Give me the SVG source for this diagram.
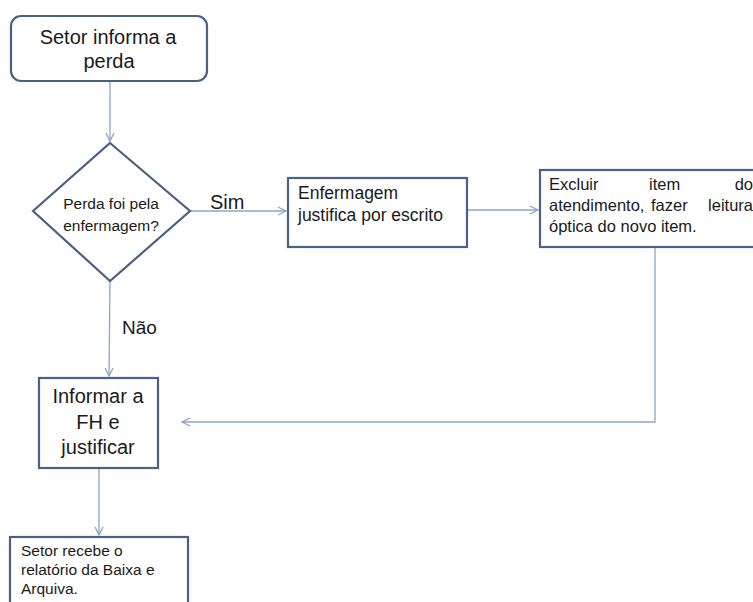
<svg xmlns="http://www.w3.org/2000/svg" width="753" height="602" viewBox="0 0 753 602">
  <defs>
    <marker id="arrow" viewBox="0 0 10 10" refX="9" refY="5" markerWidth="10" markerHeight="10" markerUnits="userSpaceOnUse" orient="auto">
      <polyline points="1,1 9,5 1,9" fill="none" stroke="#8ba6c9" stroke-width="1.3"/>
    </marker>
  </defs>
  <style>
    .box { fill: #ffffff; stroke: #4a6183; stroke-width: 2.2; }
    .link { fill: none; stroke: #8ba6c9; stroke-width: 1.3; }
    .t { font-family: "Liberation Sans", Arial, sans-serif; fill: #1a1a1a; }
  </style>
  <rect width="753" height="602" fill="#ffffff"/>

  <!-- connectors -->
  <g id="connectors">
    <line class="link" x1="110" y1="81" x2="110" y2="141" marker-end="url(#arrow)"/>
    <line class="link" x1="190" y1="211" x2="286" y2="211" marker-end="url(#arrow)"/>
    <line class="link" x1="467" y1="210" x2="538" y2="210" marker-end="url(#arrow)"/>
    <line class="link" x1="110" y1="282" x2="109" y2="376" marker-end="url(#arrow)"/>
    <polyline class="link" points="655,247 655,422 182,422" marker-end="url(#arrow)"/>
    <line class="link" x1="99" y1="468" x2="99" y2="535" marker-end="url(#arrow)"/>
    <text class="t" x="210" y="209" font-size="20">Sim</text>
    <text class="t" x="122" y="334" font-size="19">Não</text>
  </g>

  <g id="setor-informa">
    <rect class="box" x="11" y="16" width="196" height="65" rx="10"/>
    <text class="t" x="108" y="44" font-size="20" text-anchor="middle">Setor informa a</text>
    <text class="t" x="109" y="68" font-size="20" text-anchor="middle">perda</text>
  </g>

  <g id="decisao">
    <polygon class="box" points="110,143 190,211 110,281 33,211"/>
    <text class="t" x="111" y="209" font-size="15.5" text-anchor="middle">Perda foi pela</text>
    <text class="t" x="111" y="231" font-size="15.5" text-anchor="middle">enfermagem?</text>
  </g>

  <g id="enfermagem">
    <rect class="box" x="288" y="178" width="179" height="69"/>
    <text class="t" x="298" y="199" font-size="17.5">Enfermagem</text>
    <text class="t" x="298" y="221" font-size="17.5">justifica por escrito</text>
  </g>

  <g id="excluir">
    <rect class="box" x="540" y="170" width="230" height="77"/>
    <text class="t" font-size="16.5" y="190">
      <tspan x="549">Excluir</tspan><tspan x="649">item</tspan><tspan x="753" text-anchor="end">do</tspan>
    </text>
    <text class="t" font-size="16.5" y="211">
      <tspan x="549">atendimento,</tspan><tspan x="651">fazer</tspan><tspan x="753" text-anchor="end">leitura</tspan>
    </text>
    <text class="t" font-size="16.5" x="549" y="232">óptica do novo item.</text>
  </g>

  <g id="informar">
    <rect class="box" x="39" y="378" width="119" height="90"/>
    <text class="t" x="98" y="403" font-size="20" text-anchor="middle">Informar a</text>
    <text class="t" x="98" y="429" font-size="20" text-anchor="middle">FH e</text>
    <text class="t" x="98" y="454" font-size="20" text-anchor="middle">justificar</text>
  </g>

  <g id="setor-recebe">
    <rect class="box" x="10" y="537" width="178" height="80"/>
    <text class="t" x="21" y="556" font-size="15.5">Setor recebe o</text>
    <text class="t" x="21" y="575" font-size="15.5">relatório da Baixa e</text>
    <text class="t" x="21" y="594" font-size="15.5">Arquiva.</text>
  </g>
</svg>
